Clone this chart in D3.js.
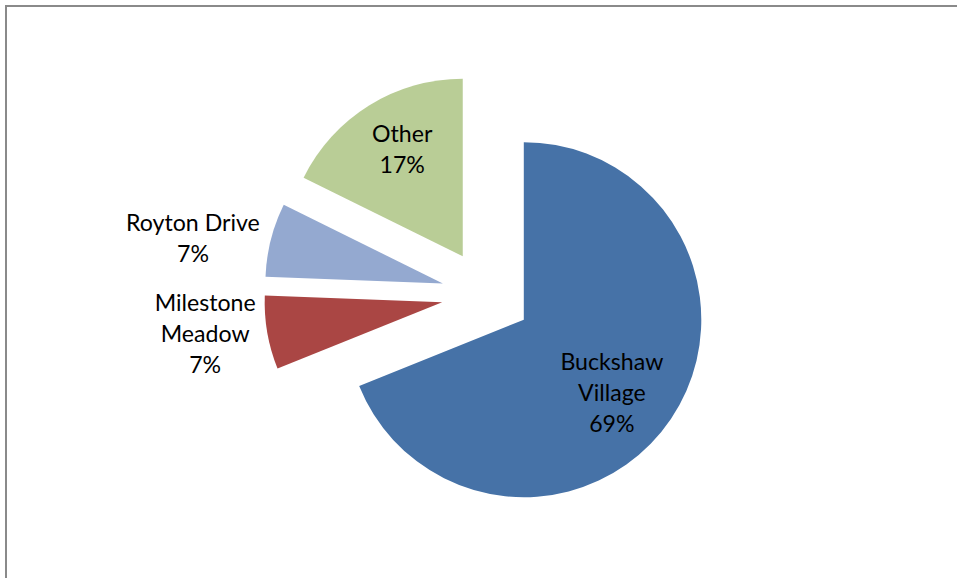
<!DOCTYPE html>
<html>
<head>
<meta charset="utf-8">
<script src="https://cdn.jsdelivr.net/npm/d3@7"></script>
<style>
  html, body { margin: 0; padding: 0; background: #fff; }
  #chart { width: 957px; height: 578px; }
  text { font-family: Lato, "Open Sans", sans-serif; fill: #000; }
</style>
</head>
<body>
<div id="chart"></div>
<script>
var categories = ["Buckshaw Village", "Milestone Meadow", "Royton Drive", "Other"];
var values = [68.9, 6.7, 6.7, 17.7];
var percentLabels = ["69%", "7%", "7%", "17%"];
var labelLines = [["Buckshaw", "Village"], ["Milestone", "Meadow"], ["Royton Drive"], ["Other"]];
var colors = ["#4672A7", "#AA4644", "#94A9D0", "#B9CD96"];

var width = 957,
    height = 578,
    cx = 486.5,
    cy = 294.5,
    radius = 177.5,
    explode = 45,
    lineHeight = 31;

// label radius (from slice apex) and angle nudge in degrees, like Excel's best fit
var labelLayout = [
    {r: 115, nudge: 6.0},
    {r: 239.1, nudge: 2.35},
    {r: 254, nudge: -3.95},
    {r: 122.4, nudge: 2.2}
];

var svg = d3.select("#chart").append("svg")
    .attr("width", width)
    .attr("height", height);

// chart area border (runs off the right and bottom)
svg.append("rect")
    .attr("x", 6)
    .attr("y", 6)
    .attr("width", 1000)
    .attr("height", 1000)
    .attr("fill", "none")
    .attr("stroke", "#8a8a8a")
    .attr("stroke-width", 2);

var pie = d3.pie().sort(null).startAngle(0).endAngle(2 * Math.PI);
var arc = d3.arc().innerRadius(0).outerRadius(radius);

var slices = pie(values).map(function (d, i) {
    var mid = (d.startAngle + d.endAngle) / 2;
    d.apex = [cx + explode * Math.sin(mid), cy - explode * Math.cos(mid)];
    d.mid = mid;
    d.i = i;
    return d;
});

var g = svg.append("g");

g.selectAll(".slice")
    .data(slices)
    .enter().append("path")
    .attr("class", "slice")
    .attr("transform", function (d) { return "translate(" + d.apex[0] + "," + d.apex[1] + ")"; })
    .attr("d", arc)
    .attr("fill", function (d) { return colors[d.i]; });

// fit font size so "Buckshaw" is as wide as in the picture
var probe = svg.append("text").attr("font-size", 100).text("Buckshaw");
var fontSize = 100 * 103 / probe.node().getComputedTextLength();
probe.remove();
var capHeight = fontSize * 0.68;

var labels = g.selectAll(".label")
    .data(slices)
    .enter().append("text")
    .attr("class", "label")
    .attr("text-anchor", "middle")
    .attr("font-size", fontSize);

labels.each(function (d) {
    var lay = labelLayout[d.i];
    var a = d.mid + lay.nudge * Math.PI / 180;
    var lx = d.apex[0] + lay.r * Math.sin(a),
        ly = d.apex[1] - lay.r * Math.cos(a);
    var lines = labelLines[d.i].concat([percentLabels[d.i]]);
    var first = ly - (lines.length - 1) * lineHeight / 2 + capHeight / 2;
    d3.select(this).selectAll("tspan")
        .data(lines)
        .enter().append("tspan")
        .attr("x", lx)
        .attr("y", function (t, k) { return first + k * lineHeight; })
        .text(function (t) { return t; });
});
</script>
</body>
</html>
